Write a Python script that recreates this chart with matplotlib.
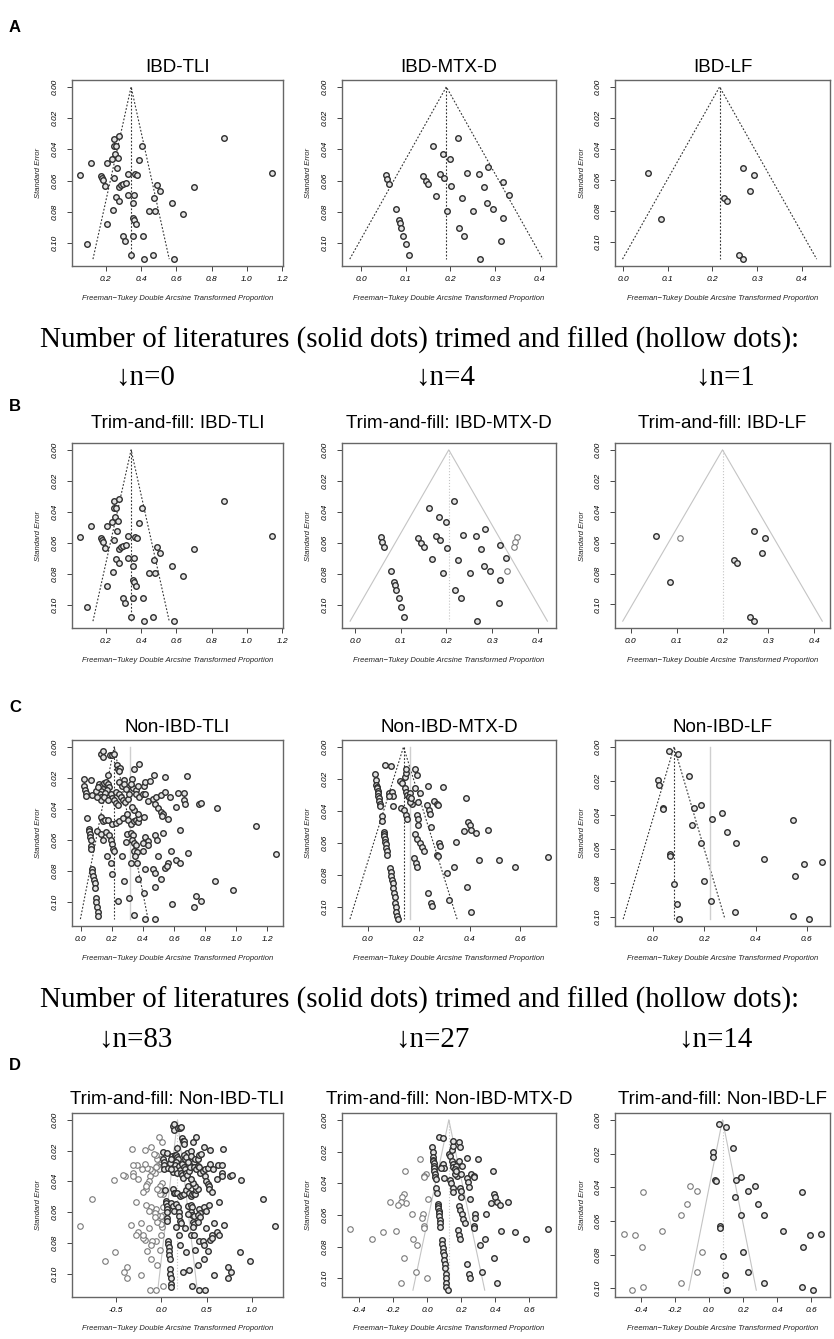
import numpy as np
import matplotlib.pyplot as plt

plt.rcParams['font.family'] = ['Liberation Sans', 'DejaVu Sans']

W, H = 834, 1339

# (transformed proportion, standard error) for each study
ibd_tli = [
    (0.247, .0331), (0.275, .0314), (0.245, .0376), (0.260, .0376), (0.404, .0376),
    (0.873, .0329), (0.116, .0490), (0.207, .0490), (0.237, .0465), (0.252, .0432),
    (0.269, .0456), (0.391, .0469), (0.263, .0520), (0.052, .0563), (0.176, .0568),
    (0.181, .0583), (0.183, .0596), (0.247, .0581), (0.327, .0557), (0.366, .0561),
    (0.376, .0566), (1.140, .0553), (0.198, .0634), (0.273, .0641), (0.284, .0626),
    (0.297, .0619), (0.314, .0613), (0.493, .0626), (0.507, .0665), (0.703, .0641),
    (0.260, .0703), (0.329, .0695), (0.361, .0695), (0.273, .0731), (0.353, .0746),
    (0.471, .0710), (0.576, .0746), (0.243, .0787), (0.445, .0794), (0.477, .0794),
    (0.639, .0813), (0.357, .0837), (0.361, .0850), (0.372, .0875), (0.209, .0875),
    (0.297, .0953), (0.310, .0987), (0.357, .0953), (0.409, .0953), (0.095, .1009),
    (0.342, .1077), (0.417, .1103), (0.467, .1077), (0.587, .1103),
]

ibd_mtx = [
    (0.217, .0327), (0.162, .0376), (0.184, .0430), (0.200, .0465), (0.285, .0510),
    (0.056, .0563), (0.059, .0591), (0.063, .0624), (0.138, .0568), (0.145, .0600),
    (0.151, .0624), (0.177, .0557), (0.186, .0583), (0.237, .0551), (0.265, .0557),
    (0.201, .0634), (0.275, .0639), (0.317, .0611), (0.169, .0701), (0.225, .0710),
    (0.331, .0695), (0.078, .0783), (0.192, .0794), (0.251, .0794), (0.283, .0746),
    (0.296, .0783), (0.317, .0839), (0.084, .0850), (0.087, .0869), (0.090, .0903),
    (0.095, .0953), (0.100, .1009), (0.107, .1077), (0.219, .0903), (0.231, .0953),
    (0.314, .0987), (0.266, .1103),
]

ibd_lf = [
    (0.055, .0555), (0.085, .0852), (0.269, .0525), (0.293, .0570), (0.285, .0667),
    (0.225, .0712), (0.232, .0735), (0.260, .1082), (0.268, .1108),
]

non_tli = [
    (0.130, .0043), (0.141, .0028), (0.147, .0065), (0.190, .0050), (0.205, .0050),
    (0.216, .0045), (0.233, .0118), (0.242, .0140), (0.255, .0135), (0.249, .0157),
    (0.346, .0144), (0.378, .0112), (0.179, .0183), (0.471, .0178), (0.540, .0194),
    (0.681, .0189), (0.022, .0209), (0.065, .0215), (0.281, .0215), (0.329, .0204),
    (0.022, .0254), (0.028, .0275), (0.032, .0297), (0.035, .0318), (0.076, .0312),
    (0.119, .0237), (0.130, .0254), (0.141, .0269), (0.130, .0284), (0.123, .0305),
    (0.134, .0323), (0.130, .0340), (0.151, .0232), (0.162, .0226), (0.173, .0241),
    (0.184, .0258), (0.169, .0275), (0.156, .0297), (0.151, .0323), (0.195, .0301),
    (0.205, .0327), (0.177, .0344), (0.216, .0344), (0.227, .0361), (0.227, .0290),
    (0.249, .0305), (0.259, .0323), (0.270, .0344), (0.238, .0376), (0.285, .0357),
    (0.303, .0333), (0.313, .0305), (0.298, .0258), (0.335, .0262), (0.357, .0275),
    (0.249, .0226), (0.264, .0252), (0.277, .0241), (0.292, .0273), (0.324, .0237),
    (0.372, .0252), (0.406, .0252), (0.415, .0226), (0.443, .0222), (0.357, .0305),
    (0.378, .0323), (0.400, .0301), (0.415, .0305), (0.432, .0348), (0.465, .0333),
    (0.486, .0323), (0.480, .0366), (0.514, .0312), (0.540, .0290), (0.573, .0323),
    (0.627, .0297), (0.666, .0297), (0.666, .0344), (0.670, .0366), (0.616, .0387),
    (0.761, .0366), (0.774, .0361), (0.875, .0391), (0.097, .0284), (0.108, .0323),
    (0.112, .0258), (0.043, .0456), (0.130, .0452), (0.141, .0477), (0.156, .0473),
    (0.179, .0473), (0.205, .0495), (0.227, .0490), (0.249, .0480), (0.270, .0456),
    (0.298, .0430), (0.303, .0473), (0.324, .0495), (0.342, .0480), (0.357, .0473),
    (0.367, .0484), (0.378, .0456), (0.406, .0452), (0.367, .0430), (0.346, .0409),
    (0.329, .0387), (0.497, .0396), (0.514, .0419), (0.527, .0430), (0.523, .0447),
    (0.562, .0467), (0.054, .0527), (0.054, .0544), (0.061, .0559), (0.061, .0581),
    (0.065, .0602), (0.065, .0639), (0.069, .0660), (0.108, .0538), (0.130, .0559),
    (0.162, .0548), (0.184, .0570), (0.147, .0596), (0.195, .0602), (0.199, .0624),
    (0.210, .0656), (0.216, .0673), (0.298, .0563), (0.324, .0555), (0.335, .0570),
    (0.329, .0602), (0.342, .0617), (0.357, .0628), (0.346, .0667), (0.363, .0677),
    (0.350, .0699), (0.292, .0613), (0.411, .0581), (0.432, .0606), (0.476, .0570),
    (0.493, .0596), (0.530, .0553), (0.400, .0619), (0.432, .0634), (0.400, .0667),
    (0.638, .0533), (1.124, .0512), (1.254, .0688), (0.169, .0699), (0.195, .0748),
    (0.205, .0817), (0.266, .0705), (0.324, .0748), (0.363, .0748), (0.411, .0785),
    (0.465, .0785), (0.476, .0813), (0.497, .0705), (0.540, .0781), (0.562, .0748),
    (0.558, .0766), (0.579, .0673), (0.610, .0727), (0.638, .0748), (0.692, .0684),
    (0.367, .0849), (0.277, .0860), (0.476, .0903), (0.519, .0852), (0.076, .0785),
    (0.076, .0806), (0.082, .0828), (0.086, .0856), (0.091, .0877), (0.093, .0908),
    (0.865, .0860), (0.979, .0920), (0.097, .0972), (0.102, .1000), (0.108, .1032),
    (0.242, .0989), (0.309, .0974), (0.406, .0942), (0.584, .1011), (0.739, .0957),
    (0.772, .0989), (0.731, .1032), (0.110, .1065), (0.112, .1085), (0.340, .1080),
    (0.415, .1108), (0.480, .1108),
]

non_mtx = [
    (0.068, .0110), (0.091, .0117), (0.026, .0170), (0.033, .0206), (0.033, .0237),
    (0.034, .0252), (0.036, .0258), (0.038, .0273), (0.040, .0290), (0.041, .0305),
    (0.042, .0322), (0.045, .0339), (0.048, .0358), (0.049, .0371), (0.054, .0432),
    (0.057, .0460), (0.063, .0530), (0.064, .0544), (0.065, .0559), (0.067, .0576),
    (0.068, .0591), (0.071, .0608), (0.073, .0629), (0.076, .0650), (0.077, .0676),
    (0.087, .0756), (0.089, .0784), (0.092, .0809), (0.095, .0831), (0.097, .0852),
    (0.100, .0883), (0.104, .0911), (0.107, .0936), (0.108, .0975), (0.111, .1000),
    (0.111, .1032), (0.113, .1055), (0.120, .1075), (0.084, .0290), (0.095, .0280),
    (0.100, .0305), (0.081, .0307), (0.100, .0369), (0.126, .0216), (0.135, .0227),
    (0.145, .0258), (0.149, .0280), (0.154, .0300), (0.161, .0311), (0.131, .0381),
    (0.141, .0396), (0.149, .0428), (0.154, .0453), (0.147, .0190), (0.151, .0163),
    (0.149, .0136), (0.185, .0138), (0.192, .0174), (0.167, .0290), (0.162, .0311),
    (0.174, .0354), (0.164, .0343), (0.171, .0322), (0.185, .0258), (0.205, .0290),
    (0.198, .0343), (0.192, .0428), (0.196, .0449), (0.198, .0487), (0.235, .0242),
    (0.296, .0248), (0.232, .0364), (0.239, .0392), (0.245, .0422), (0.259, .0339),
    (0.272, .0354), (0.275, .0360), (0.249, .0502), (0.185, .0544), (0.192, .0572),
    (0.205, .0597), (0.212, .0623), (0.222, .0650), (0.182, .0693), (0.189, .0725),
    (0.194, .0752), (0.279, .0597), (0.283, .0619), (0.272, .0672), (0.275, .0682),
    (0.346, .0593), (0.386, .0322), (0.377, .0528), (0.393, .0470), (0.400, .0490),
    (0.407, .0517), (0.427, .0540), (0.474, .0517), (0.436, .0703), (0.514, .0708),
    (0.579, .0752), (0.709, .0689), (0.339, .0752), (0.312, .0788), (0.235, .0911),
    (0.390, .0873), (0.248, .0975), (0.253, .0996), (0.319, .0958), (0.407, .1032),
]

non_lf = [
    (0.062, .0026), (0.100, .0041), (0.142, .0169), (0.022, .0193), (0.024, .0223),
    (0.038, .0358), (0.040, .0364), (0.160, .0357), (0.186, .0340), (0.268, .0390),
    (0.230, .0424), (0.152, .0459), (0.546, .0430), (0.290, .0502), (0.188, .0567),
    (0.326, .0564), (0.066, .0630), (0.067, .0640), (0.434, .0658), (0.590, .0686),
    (0.659, .0676), (0.554, .0757), (0.200, .0786), (0.082, .0806), (0.228, .0904),
    (0.096, .0920), (0.322, .0971), (0.104, .1011), (0.546, .0991), (0.610, .1011),
]

# pooled estimates: fixed effect (funnel apex), random effect, trim-and-fill
fe = {'ibd_tli': 0.344, 'ibd_mtx': 0.191, 'ibd_lf': 0.216,
      'non_tli': 0.216, 'non_mtx': 0.140, 'non_lf': 0.083}
re = {'non_tli': 0.318, 'non_mtx': 0.167, 'non_lf': 0.221}
tf = {'ibd_tli': 0.344, 'ibd_mtx': 0.205, 'ibd_lf': 0.200,
      'non_tli': 0.180, 'non_mtx': 0.127, 'non_lf': 0.080}
n_filled = {'ibd_tli': 0, 'ibd_mtx': 4, 'ibd_lf': 1,
            'non_tli': 83, 'non_mtx': 27, 'non_lf': 14}
fill_side = {'ibd_tli': 'left', 'ibd_mtx': 'right', 'ibd_lf': 'left',
             'non_tli': 'left', 'non_mtx': 'left', 'non_lf': 'left'}

xlab = 'Freeman\u2212Tukey Double Arcsine Transformed Proportion'
serif = ['Liberation Serif', 'DejaVu Serif']

fig = plt.figure(figsize=(W / 100, H / 100), dpi=100)

cols = [(72, 283), (342, 556), (615, 830)]
rows = {'A': (80, 266, 67), 'B': (443, 628, 423), 'C': (740, 926, 728), 'D': (1113, 1297, 1100)}


def panel(row, col, pts, centre, xlim, xticks, title, grey=False, ref=None, n=0, side='left'):
    top, bottom, ty = rows[row]
    left, right = cols[col]
    ax = fig.add_axes([left / W, 1 - bottom / H, (right - left) / W, (bottom - top) / H])
    pts = np.array(pts)
    x, se = pts[:, 0], pts[:, 1]
    m = se.max()
    if grey:
        ax.plot([centre - 1.96 * m, centre, centre + 1.96 * m], [m, 0, m],
                color='#c4c4c4', lw=0.8, zorder=1)
        ax.plot([centre, centre], [0, m], color='#c4c4c4', lw=0.8, ls=':', zorder=1)
    else:
        ax.plot([centre - 1.96 * m, centre, centre + 1.96 * m], [m, 0, m],
                color='#333333', lw=0.8, ls=(0, (1.6, 1.6)), zorder=1)
        ax.plot([centre, centre], [0, m], color='#333333', lw=0.8, ls=(0, (1.6, 1.6)), zorder=1)
    if ref is not None:
        ax.plot([ref, ref], [0, m], color='#cfcfcf', lw=1.0, zorder=1)
    if n > 0:
        order = np.argsort(x)
        idx = order[-n:] if side == 'left' else order[:n]
        ax.scatter(2 * centre - x[idx], se[idx], s=16, facecolors='white',
                   edgecolors='#7a7a7a', linewidths=0.8, zorder=2)
    ax.scatter(x, se, s=16, facecolors='#e2e2e2', edgecolors='#2e2e2e',
               linewidths=1.0, zorder=3)
    ax.set_xlim(*xlim)
    ax.set_ylim(m * 1.04, -m * 0.04)
    ax.set_xticks(xticks)
    ax.set_xticklabels([f'{t:.1f}' for t in xticks], fontstyle='italic', fontsize=6)
    yt = [0.0, 0.02, 0.04, 0.06, 0.08, 0.10]
    ax.set_yticks(yt)
    ax.set_yticklabels([f'{t:.2f}' for t in yt], fontstyle='italic', fontsize=6,
                       rotation=90, va='center')
    ax.tick_params(axis='x', direction='out', length=3.5, width=0.7, color='#444444', pad=4)
    ax.tick_params(axis='y', direction='out', length=3.5, width=0.7, color='#444444', pad=6)
    for sp in ax.spines.values():
        sp.set_color('#666666')
        sp.set_linewidth(1.0)
    h = bottom - top
    w = right - left
    ax.text(0.5, -32 / h, xlab, transform=ax.transAxes, ha='center', va='center',
            fontsize=5.5, fontstyle='italic', color='#222222')
    ax.text(-33 / w, 0.5, 'Standard Error', transform=ax.transAxes, ha='center',
            va='center', rotation=90, fontsize=5.5, fontstyle='italic', color='#222222')
    fig.text((left + right) / 2 / W, 1 - ty / H, title, ha='center', va='center', fontsize=13.5)
    return ax


# A: funnel plots
panel('A', 0, ibd_tli, fe['ibd_tli'], (0.009, 1.205), [0.2, 0.4, 0.6, 0.8, 1.0, 1.2], 'IBD-TLI')
panel('A', 1, ibd_mtx, fe['ibd_mtx'], (-0.0425, 0.4365), [0.0, 0.1, 0.2, 0.3, 0.4], 'IBD-MTX-D')
panel('A', 2, ibd_lf, fe['ibd_lf'], (-0.018, 0.463), [0.0, 0.1, 0.2, 0.3, 0.4], 'IBD-LF')

# B: trim-and-fill
panel('B', 0, ibd_tli, tf['ibd_tli'], (0.009, 1.205), [0.2, 0.4, 0.6, 0.8, 1.0, 1.2],
      'Trim-and-fill: IBD-TLI')
panel('B', 1, ibd_mtx, tf['ibd_mtx'], (-0.029, 0.44), [0.0, 0.1, 0.2, 0.3, 0.4],
      'Trim-and-fill: IBD-MTX-D', grey=True, n=n_filled['ibd_mtx'], side=fill_side['ibd_mtx'])
panel('B', 2, ibd_lf, tf['ibd_lf'], (-0.034, 0.434), [0.0, 0.1, 0.2, 0.3, 0.4],
      'Trim-and-fill: IBD-LF', grey=True, n=n_filled['ibd_lf'], side=fill_side['ibd_lf'])

# C: funnel plots
panel('C', 0, non_tli, fe['non_tli'], (-0.055, 1.30), [0.0, 0.2, 0.4, 0.6, 0.8, 1.0, 1.2],
      'Non-IBD-TLI', ref=re['non_tli'])
panel('C', 1, non_mtx, fe['non_mtx'], (-0.102, 0.74), [0.0, 0.2, 0.4, 0.6],
      'Non-IBD-MTX-D', ref=re['non_mtx'])
panel('C', 2, non_lf, fe['non_lf'], (-0.147, 0.69), [0.0, 0.2, 0.4, 0.6],
      'Non-IBD-LF', ref=re['non_lf'])

# D: trim-and-fill
panel('D', 0, non_tli, tf['non_tli'], (-0.98, 1.34), [-0.5, 0.0, 0.5, 1.0],
      'Trim-and-fill: Non-IBD-TLI', grey=True, n=n_filled['non_tli'], side=fill_side['non_tli'])
panel('D', 1, non_mtx, tf['non_mtx'], (-0.50, 0.756), [-0.4, -0.2, 0.0, 0.2, 0.4, 0.6],
      'Trim-and-fill: Non-IBD-MTX-D', grey=True, n=n_filled['non_mtx'], side=fill_side['non_mtx'])
panel('D', 2, non_lf, tf['non_lf'], (-0.55, 0.71), [-0.4, -0.2, 0.0, 0.2, 0.4, 0.6],
      'Trim-and-fill: Non-IBD-LF', grey=True, n=n_filled['non_lf'], side=fill_side['non_lf'])

# panel letters
for letter, y in [('A', 27), ('B', 407), ('C', 707), ('D', 1066)]:
    fig.text(15 / W, 1 - y / H, letter, fontsize=12, fontweight='bold', ha='center', va='center')

# connecting captions
caption = 'Number of literatures (solid dots) trimed and filled (hollow dots):'
caps = [fig.text(420 / W, 1 - y / H, caption, fontsize=17, family=serif,
                 ha='center', va='center') for y in (340, 1000)]
fig.canvas.draw()
cw = caps[0].get_window_extent().width
size = 17 * 760 / cw
for c in caps:
    c.set_fontsize(size)

arrows = [(145, 378, 'ibd_tli'), (445, 378, 'ibd_mtx'), (725, 378, 'ibd_lf'),
          (135, 1040, 'non_tli'), (432, 1040, 'non_mtx'), (715, 1040, 'non_lf')]
for xa, ya, key in arrows:
    fig.text(xa / W, 1 - ya / H, '\u2193n=%d' % n_filled[key], fontsize=size, family=serif,
             ha='center', va='center')

fig.savefig('out.png', dpi=100)
